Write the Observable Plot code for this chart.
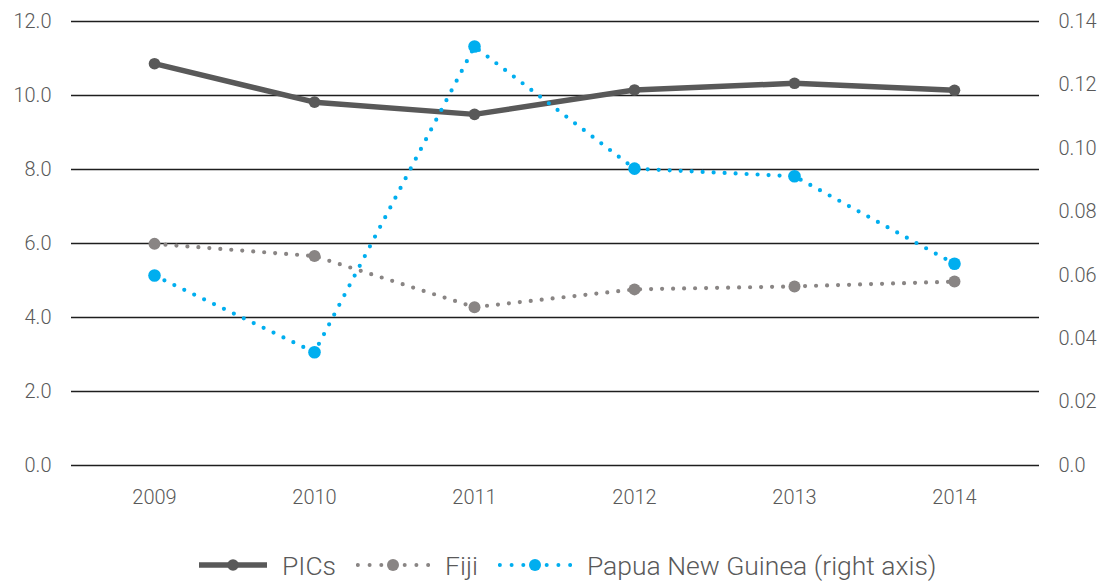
<!DOCTYPE html>
<html><head><meta charset="utf-8">
<script src="https://cdn.jsdelivr.net/npm/d3@7"></script>
<script src="https://cdn.jsdelivr.net/npm/@observablehq/plot@0.6"></script>
<style>
body{margin:0;background:#fff;font-family:Roboto,"Liberation Sans",sans-serif;}
#legend{display:flex;align-items:center;height:40px;margin-top:25px;padding-left:199px;font-size:26.5px;color:#595959;font-weight:300;}
.item{display:flex;align-items:center;margin-right:20px;}
.item svg{margin-right:15px;}
</style></head><body>
<div id="chart"></div>
<div id="legend"></div>
<script>
const years = ["2009", "2010", "2011", "2012", "2013", "2014"];
const pics = [10.86, 9.82, 9.49, 10.15, 10.33, 10.14];
const fiji = [5.99, 5.66, 4.28, 4.76, 4.84, 4.97];
const png = [0.0599, 0.0357, 0.1321, 0.0936, 0.0912, 0.0636];
const leftTicks = [0, 2, 4, 6, 8, 10, 12];
const rightTicks = [0, 0.02, 0.04, 0.06, 0.08, 0.10, 0.12, 0.14];
const rightTickLabels = ["0.0", "0.02", "0.04", "0.06", "0.08", "0.10", "0.12", "0.14"];
const seriesNames = ["PICs", "Fiji", "Papua New Guinea (right axis)"];
const colors = ["#595959", "#898584", "#00aeef"];

const leftMax = 12, rightMax = 0.14;
const k = leftMax / rightMax;

const rows = years.map((y, i) => ({year: y, pics: pics[i], fiji: fiji[i], png: png[i] * k}));

const chart = Plot.plot({
  width: 1107,
  height: 520,
  marginTop: 21,
  marginBottom: 55,
  marginLeft: 71,
  marginRight: 68,
  style: {fontFamily: "Roboto, 'Liberation Sans', sans-serif", fontSize: "20px", color: "#595959", background: "#fff", fontWeight: 300},
  x: {type: "point", domain: years, padding: 0, insetLeft: 82.5, insetRight: 84, label: null},
  y: {domain: [0, leftMax], label: null},
  marks: [
    Plot.ruleY(leftTicks, {stroke: "#1e1e1e", strokeWidth: 1.3}),
    Plot.axisY(leftTicks, {tickSize: 0, tickPadding: 20, tickFormat: d3.format(".1f"), label: null}),
    Plot.axisY(rightTicks.map(v => v * k), {anchor: "right", tickSize: 0, tickPadding: 19, label: null,
      tickFormat: d => rightTickLabels[rightTicks.findIndex(v => Math.abs(v * k - d) < 1e-6)]}),
    Plot.axisX(years, {tickSize: 0, tickPadding: 24, label: null}),
    Plot.line(rows, {x: "year", y: "pics", stroke: colors[0], strokeWidth: 5.5}),
    Plot.dot(rows, {x: "year", y: "pics", r: 5.8, fill: colors[0]}),
    Plot.line(rows, {x: "year", y: "fiji", stroke: colors[1], strokeWidth: 4.2, strokeDasharray: "0 11", strokeLinecap: "round"}),
    Plot.dot(rows, {x: "year", y: "fiji", r: 6, fill: colors[1]}),
    Plot.line(rows, {x: "year", y: "png", stroke: colors[2], strokeWidth: 4.2, strokeDasharray: "0 11", strokeLinecap: "round"}),
    Plot.dot(rows, {x: "year", y: "png", r: 6.3, fill: colors[2]})
  ]
});
document.getElementById("chart").appendChild(chart);

const legend = document.getElementById("legend");
seriesNames.forEach((name, i) => {
  const item = document.createElement("div");
  item.className = "item";
  const dashed = i > 0;
  let inner;
  let w;
  if (dashed) {
    w = 74;
    const c = w / 2;
    const offs = [-3, -2, -1, 1, 2, 3];
    inner = offs.map(o => `<circle cx="${c + o * 11.7}" cy="10" r="2" fill="${colors[i]}"/>`).join("") +
      `<circle cx="${c}" cy="10" r="6" fill="${colors[i]}"/>`;
  } else {
    w = 68;
    inner = `<line x1="0" y1="10" x2="${w}" y2="10" stroke="${colors[i]}" stroke-width="5.5"/><circle cx="${w / 2}" cy="10" r="5.8" fill="${colors[i]}"/>`;
  }
  item.innerHTML = `<svg width="${w}" height="20">${inner}</svg><span>${name}</span>`;
  legend.appendChild(item);
});
</script>
</body></html>
